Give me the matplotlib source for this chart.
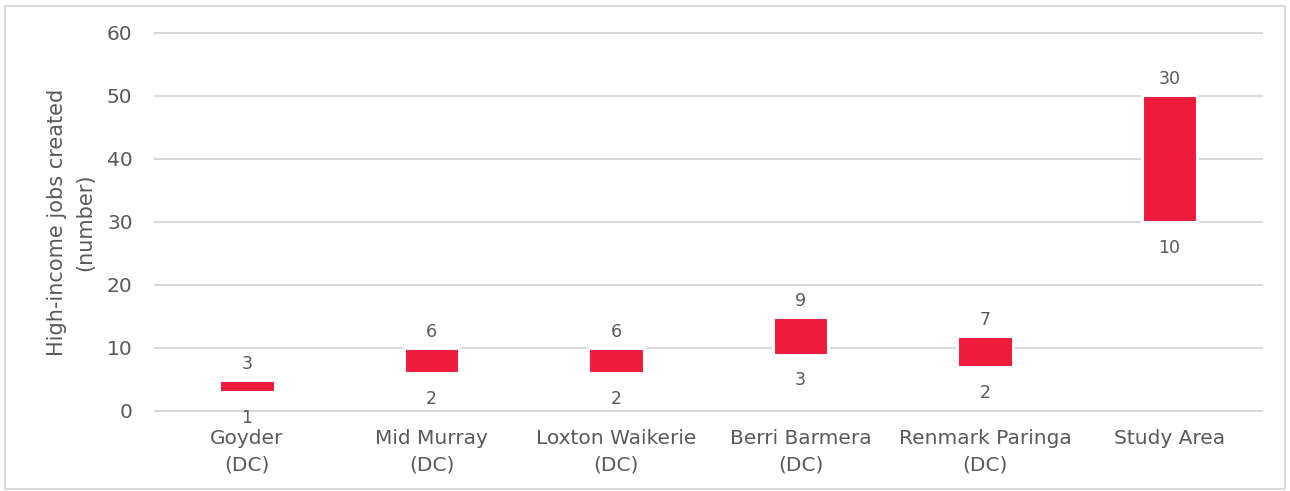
import matplotlib.pyplot as plt
from matplotlib.patches import Rectangle

# Dados
regioes = ['Goyder\n(DC)', 'Mid Murray\n(DC)', 'Loxton Waikerie\n(DC)',
           'Berri Barmera\n(DC)', 'Renmark Paringa\n(DC)', 'Study Area']
base = [2.95, 5.95, 5.95, 8.95, 6.95, 29.95]
topo = [4.85, 9.95, 9.95, 14.95, 11.95, 50.1]
rotulo_topo = [3, 6, 6, 9, 7, 30]
rotulo_base = [1, 2, 2, 3, 2, 10]

cinza = '#595959'
vermelho = '#EE1B3D'

fig = plt.figure(figsize=(12.9, 4.91), dpi=100)
ax = fig.add_axes([0.120, 0.163, 0.858, 0.770])

x = range(len(regioes))
alturas = [t - b for t, b in zip(topo, base)]
ax.bar(x, alturas, bottom=base, width=0.3, color=vermelho,
       edgecolor='white', linewidth=2.2, zorder=3)

# Rótulos acima e abaixo de cada barra
for i in x:
    ax.annotate(str(rotulo_topo[i]), (i, topo[i]), xytext=(0, 5),
                textcoords='offset points', ha='center', va='bottom',
                fontsize=12.5, color=cinza)
    ax.annotate(str(rotulo_base[i]), (i, base[i]), xytext=(0, -12),
                textcoords='offset points', ha='center', va='top',
                fontsize=12.5, color=cinza)

ax.set_xlim(-0.5, len(regioes) - 0.5)
ax.set_ylim(0, 60)
ax.set_yticks(range(0, 61, 10))
ax.set_xticks(list(x))
ax.set_xticklabels(regioes, fontsize=14.5, color=cinza, linespacing=1.5)
ax.tick_params(axis='y', labelsize=14.5, labelcolor=cinza, length=0, pad=16)
ax.tick_params(axis='x', length=0, pad=13)
ax.set_ylabel('High-income jobs created\n(number)', fontsize=15,
              color=cinza, labelpad=8, linespacing=1.55)

ax.grid(axis='y', color='#d9d9d9', linewidth=1.5, zorder=0)
ax.set_axisbelow(True)
for linha in ax.get_ygridlines():
    linha.set_clip_on(False)
for s in ax.spines.values():
    s.set_visible(False)

# Moldura cinza em volta da figura
fig.patches.append(Rectangle((0.004, 0.004), 0.992, 0.984, transform=fig.transFigure,
                             fill=False, edgecolor='#d9d9d9', linewidth=1.5))

plt.savefig('out.png', dpi=100)
